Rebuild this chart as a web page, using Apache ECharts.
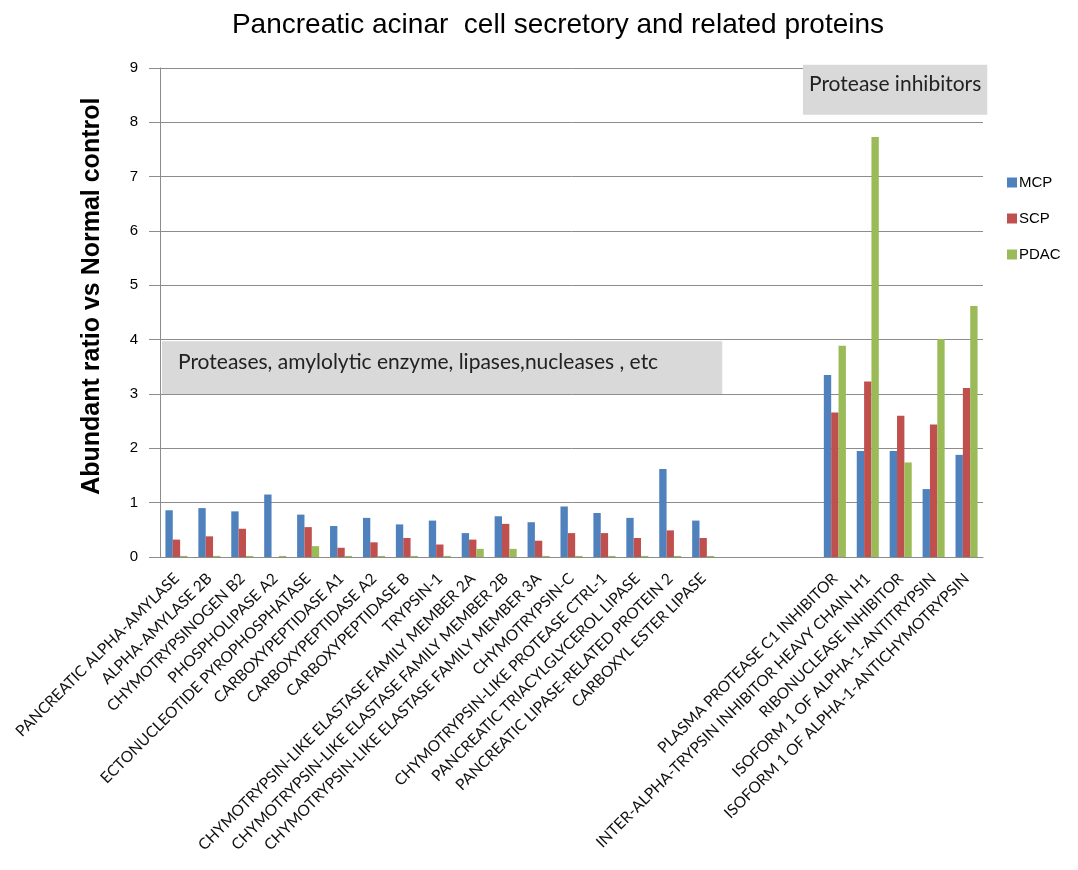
<!DOCTYPE html>
<html>
<head>
<meta charset="utf-8">
<script src="https://cdn.jsdelivr.net/npm/echarts@6/dist/echarts.min.js"></script>
<style>
  html, body { margin: 0; padding: 0; background: #fff; }
  #chart { width: 1078px; height: 870px; }
</style>
</head>
<body>
<div id="chart"></div>
<script>
// Protein names; blank entries separate the two groups on the axis
const categories = [
  'PANCREATIC ALPHA-AMYLASE',
  'ALPHA-AMYLASE 2B',
  'CHYMOTRYPSINOGEN B2',
  'PHOSPHOLIPASE A2',
  'ECTONUCLEOTIDE PYROPHOSPHATASE',
  'CARBOXYPEPTIDASE A1',
  'CARBOXYPEPTIDASE A2',
  'CARBOXYPEPTIDASE B',
  'TRYPSIN-1',
  'CHYMOTRYPSIN-LIKE ELASTASE FAMILY MEMBER 2A',
  'CHYMOTRYPSIN-LIKE ELASTASE FAMILY MEMBER 2B',
  'CHYMOTRYPSIN-LIKE ELASTASE FAMILY MEMBER 3A',
  'CHYMOTRYPSIN-C',
  'CHYMOTRYPSIN-LIKE PROTEASE CTRL-1',
  'PANCREATIC TRIACYLGLYCEROL LIPASE',
  'PANCREATIC LIPASE-RELATED PROTEIN 2',
  'CARBOXYL ESTER LIPASE',
  '', '', '',
  'PLASMA PROTEASE C1 INHIBITOR',
  'INTER-ALPHA-TRYPSIN INHIBITOR HEAVY CHAIN H1',
  'RIBONUCLEASE INHIBITOR',
  'ISOFORM 1 OF ALPHA-1-ANTITRYPSIN',
  'ISOFORM 1 OF ALPHA-1-ANTICHYMOTRYPSIN'
];

const seriesNames = ['MCP', 'SCP', 'PDAC'];

const mcp = [0.86, 0.90, 0.84, 1.15, 0.78, 0.57, 0.72, 0.60, 0.67, 0.44, 0.75, 0.64, 0.93, 0.81, 0.72, 1.62, 0.67,
  null, null, null,
  3.35, 1.95, 1.95, 1.25, 1.88];
const scp = [0.32, 0.38, 0.52, 0, 0.55, 0.17, 0.27, 0.35, 0.23, 0.32, 0.61, 0.30, 0.44, 0.44, 0.35, 0.49, 0.35,
  null, null, null,
  2.66, 3.23, 2.60, 2.44, 3.11];
const pdac = [0.02, 0.02, 0.02, 0.02, 0.20, 0.02, 0.02, 0.02, 0.02, 0.15, 0.15, 0.02, 0.02, 0.02, 0.02, 0.02, 0.02,
  null, null, null,
  3.89, 7.73, 1.74, 4.01, 4.62];

const yTicks = [0, 1, 2, 3, 4, 5, 6, 7, 8, 9];

const groupLabels = ['Proteases, amylolytic enzyme, lipases,nucleases , etc', 'Protease inhibitors'];
const yAxisTitle = 'Abundant ratio vs Normal control';

const colors = ['#4F81BD', '#C0504D', '#9BBB59'];
const gridColor = '#8c8c8c';

const chart = echarts.init(document.getElementById('chart'));

const barSeries = [mcp, scp, pdac].map((vals, i) => ({
  name: seriesNames[i],
  type: 'bar',
  data: vals,
  barGap: '0%',
  barCategoryGap: '33%',
  itemStyle: { color: colors[i] },
  z: 3
}));

chart.setOption({
  animation: false,
  backgroundColor: '#ffffff',
  title: {
    text: 'Pancreatic acinar  cell secretory and related proteins',
    left: 553,
    top: 6,
    textAlign: 'center',
    textStyle: { fontFamily: 'Liberation Sans, Arial, sans-serif', fontSize: 28, fontWeight: 'normal', color: '#000' }
  },
  legend: {
    data: seriesNames,
    orient: 'vertical',
    left: 1002,
    top: 170,
    itemWidth: 10,
    itemHeight: 10,
    itemGap: 21,
    icon: 'rect',
    textStyle: { fontFamily: 'Liberation Sans, Arial, sans-serif', fontSize: 15, color: '#000', padding: [0, 0, 0, -3] }
  },
  grid: { left: 160, right: 95, top: 68, bottom: 313, containLabel: false },
  xAxis: {
    type: 'category',
    data: categories,
    boundaryGap: true,
    axisLine: { lineStyle: { color: gridColor, width: 1 } },
    axisTick: { show: false },
    axisLabel: {
      interval: 0,
      rotate: 45,
      margin: 19,
      fontFamily: 'Lato, Calibri, sans-serif',
      fontSize: 15.5,
      color: '#111'
    }
  },
  yAxis: {
    type: 'value',
    min: yTicks[0],
    max: yTicks[yTicks.length - 1],
    interval: 1,
    axisLine: { show: true, lineStyle: { color: gridColor, width: 1 } },
    axisTick: { show: true, length: 11, lineStyle: { color: gridColor } },
    axisLabel: {
      margin: 22,
      fontFamily: 'Liberation Sans, Arial, sans-serif',
      fontSize: 15,
      color: '#000',
      formatter: v => (yTicks.indexOf(v) >= 0 ? String(v) : '')
    },
    splitLine: { show: true, lineStyle: { color: gridColor, width: 1 } }
  },
  series: barSeries
});

// Shaded group captions and axis title placed through the chart's own scales
const px = (cat) => chart.convertToPixel({ xAxisIndex: 0 }, cat);
const py = (v) => chart.convertToPixel({ yAxisIndex: 0 }, v);
const band = px(1) - px(0);
const gridLeft = px(0) - band / 2;

const box1 = { x0: gridLeft + 2, x1: px(16) + band * 0.58, yTop: py(3.97), yBot: py(3.0) };
const box2 = { x0: px(19) + 1, x1: px(24) + band * 0.63, yTop: py(9.06), yBot: py(8.14) };

chart.setOption({
  graphic: [
    {
      type: 'text', z: 11,
      x: 92, y: py(4.8),
      rotation: Math.PI / 2,
      style: { text: yAxisTitle, fontFamily: 'Liberation Sans, Arial, sans-serif', fontSize: 25, fontWeight: 'bold', fill: '#000', align: 'center', verticalAlign: 'middle' }
    },
    {
      type: 'rect', z: 10,
      shape: { x: box1.x0, y: box1.yTop, width: box1.x1 - box1.x0, height: box1.yBot - box1.yTop },
      style: { fill: '#d9d9d9' }
    },
    {
      type: 'text', z: 11,
      x: box1.x0 + 16, y: (box1.yTop + box1.yBot) / 2 - 5,
      style: { text: groupLabels[0], fontFamily: 'Lato, Calibri, sans-serif', fontSize: 21, fill: '#222', verticalAlign: 'middle' }
    },
    {
      type: 'rect', z: 10,
      shape: { x: box2.x0, y: box2.yTop, width: box2.x1 - box2.x0, height: box2.yBot - box2.yTop },
      style: { fill: '#d9d9d9' }
    },
    {
      type: 'text', z: 11,
      x: (box2.x0 + box2.x1) / 2, y: (box2.yTop + box2.yBot) / 2 - 5,
      style: { text: groupLabels[1], fontFamily: 'Lato, Calibri, sans-serif', fontSize: 21, fill: '#222', align: 'center', verticalAlign: 'middle' }
    }
  ]
});
</script>
</body>
</html>
